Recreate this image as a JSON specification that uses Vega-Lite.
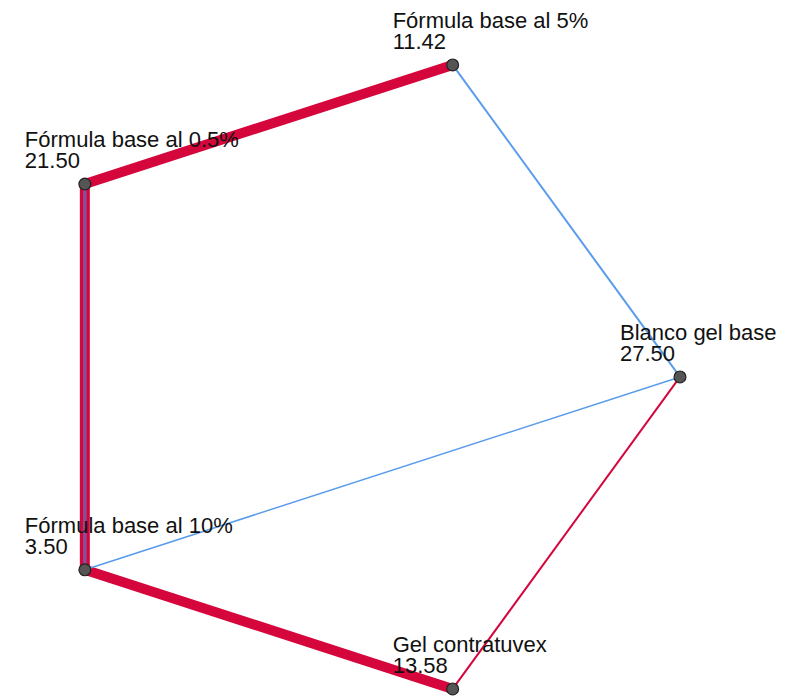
{
  "$schema": "https://vega.github.io/schema/vega-lite/v6.json",
  "width": 796,
  "height": 698,
  "autosize": {"type": "fit", "contains": "padding"},
  "padding": 0,
  "background": "white",
  "config": {"view": {"stroke": null}},
  "datasets": {
    "nodes": [
      {"name": "Blanco gel base", "value": 27.50, "x": 1, "y": 0},
      {"name": "Fórmula base al 5%", "value": 11.42, "x": 0.309, "y": 0.951},
      {"name": "Fórmula base al 0.5%", "value": 21.50, "x": -0.809, "y": 0.588},
      {"name": "Fórmula base al 10%", "value": 3.50, "x": -0.809, "y": -0.588},
      {"name": "Gel contratuvex", "value": 13.58, "x": 0.309, "y": -0.951}
    ],
    "edges": [
      {"source": "Fórmula base al 5%", "target": "Fórmula base al 0.5%", "x": 0.309, "y": 0.951, "x2": -0.809, "y2": 0.588, "kind": "red strong", "rank": 1},
      {"source": "Fórmula base al 0.5%", "target": "Fórmula base al 10%", "x": -0.809, "y": 0.588, "x2": -0.809, "y2": -0.588, "kind": "red strong", "rank": 1},
      {"source": "Fórmula base al 10%", "target": "Gel contratuvex", "x": -0.809, "y": -0.588, "x2": 0.309, "y2": -0.951, "kind": "red strong", "rank": 1},
      {"source": "Gel contratuvex", "target": "Blanco gel base", "x": 0.309, "y": -0.951, "x2": 1, "y2": 0, "kind": "red weak", "rank": 2},
      {"source": "Blanco gel base", "target": "Fórmula base al 5%", "x": 1, "y": 0, "x2": 0.309, "y2": 0.951, "kind": "blue", "rank": 2},
      {"source": "Blanco gel base", "target": "Fórmula base al 10%", "x": 1, "y": 0, "x2": -0.809, "y2": -0.588, "kind": "blue thin", "rank": 2},
      {"source": "Fórmula base al 0.5%", "target": "Fórmula base al 10%", "x": -0.809, "y": 0.588, "x2": -0.809, "y2": -0.588, "kind": "blue overlay", "rank": 3}
    ]
  },
  "layer": [
    {
      "data": {"name": "edges"},
      "mark": {"type": "rule", "strokeCap": "butt"},
      "encoding": {
        "x": {"field": "x", "type": "quantitative", "scale": {"domain": [-1.0669, 1.3526], "nice": false, "zero": false}, "axis": null},
        "y": {"field": "y", "type": "quantitative", "scale": {"domain": [-0.9726, 1.1489], "nice": false, "zero": false}, "axis": null},
        "x2": {"field": "x2"},
        "y2": {"field": "y2"},
        "color": {"field": "kind", "type": "nominal", "legend": null,
          "scale": {"domain": ["red strong", "red weak", "blue", "blue thin", "blue overlay"],
                    "range": ["#d4063b", "#d4063b", "#5a9cec", "#5a9cec", "#85509a"]}},
        "strokeWidth": {
          "condition": [
            {"test": "datum.kind === 'red strong'", "value": 10},
            {"test": "datum.kind === 'blue overlay'", "value": 3.5},
            {"test": "datum.kind === 'blue thin'", "value": 1.5}
          ],
          "value": 2
        },
        "order": {"field": "rank", "type": "quantitative"}
      }
    },
    {
      "data": {"name": "nodes"},
      "mark": {"type": "point", "shape": "circle", "filled": true, "size": 140, "color": "#555555", "stroke": "#222222", "strokeWidth": 1.2, "opacity": 1},
      "encoding": {
        "x": {"field": "x", "type": "quantitative"},
        "y": {"field": "y", "type": "quantitative"}
      }
    },
    {
      "data": {"name": "nodes"},
      "mark": {"type": "text", "align": "left", "baseline": "alphabetic", "dx": -60, "dy": -37, "font": "Liberation Sans", "fontSize": 22, "color": "#111111"},
      "encoding": {
        "x": {"field": "x", "type": "quantitative"},
        "y": {"field": "y", "type": "quantitative"},
        "text": {"field": "name", "type": "nominal"}
      }
    },
    {
      "data": {"name": "nodes"},
      "mark": {"type": "text", "align": "left", "baseline": "alphabetic", "dx": -60, "dy": -16, "font": "Liberation Sans", "fontSize": 22, "color": "#111111"},
      "encoding": {
        "x": {"field": "x", "type": "quantitative"},
        "y": {"field": "y", "type": "quantitative"},
        "text": {"field": "value", "type": "quantitative", "format": ".2f"}
      }
    }
  ]
}
